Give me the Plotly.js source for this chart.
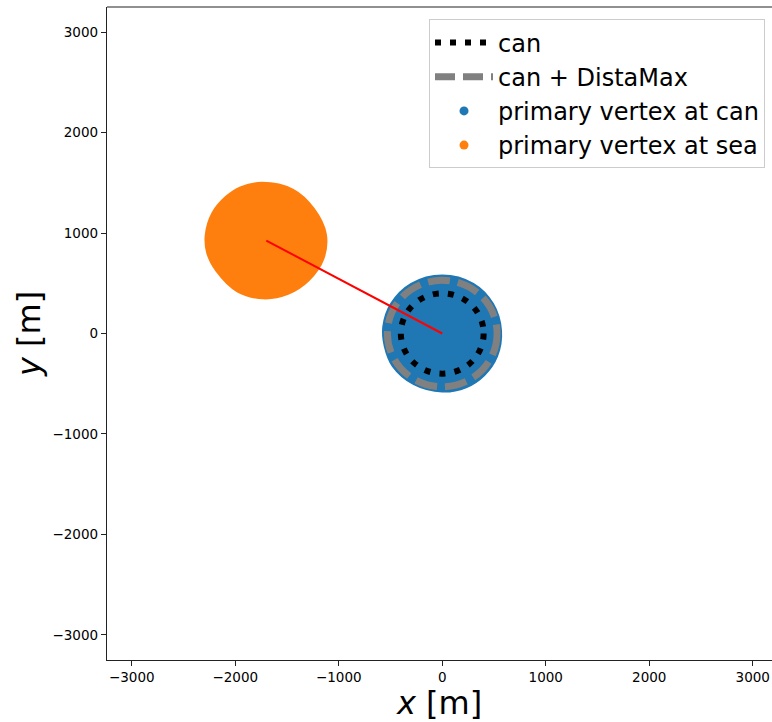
<!DOCTYPE html>
<html>
<head>
<meta charset="utf-8">
<script src="https://cdn.plot.ly/plotly-3.0.1.min.js"></script>
<style>html,body{margin:0;padding:0;background:#fff;}</style>
</head>
<body>
<div id="chart" style="width:772px;height:722px;"></div>
<script>
// ---- data ----
const canCenter = [0, 0];
const canRadius = 400;
const distaMaxRadius = 530;

// outline of the cloud of primary vertices at the can (blue)
const canVertexX = [0, 300, 490, 568, 530, 405, 230, 0, -275, -478, -555, -570, -495, -300, 0];
const canVertexY = [578, 495, 295, 30, -225, -415, -535, -578, -505, -325, -130, 65, 295, 495, 578];

// outline of the cloud of primary vertices at sea (orange)
const seaVertexX = [-1740, -1440, -1240, -1125, -1150, -1290, -1490, -1730, -1980, -2180, -2270, -2285, -2220, -2090, -1950, -1740];
const seaVertexY = [1500, 1430, 1240, 990, 740, 530, 395, 350, 420, 620, 800, 980, 1200, 1360, 1455, 1500];

// connecting line: sea vertex centre -> can centre
const lineX = [-1700, 0];
const lineY = [925, 0];

const xTicks = [-3000, -2000, -1000, 0, 1000, 2000, 3000];
const yTicks = [-3000, -2000, -1000, 0, 1000, 2000, 3000];

const legendNames = ['can', 'can + DistaMax', 'primary vertex at can', 'primary vertex at sea'];

const BLUE = '#1f77b4', ORANGE = '#ff7f0e';
const FONT = 'DejaVu Sans, sans-serif';
const fmt = v => v < 0 ? '\u2212' + Math.abs(v) : String(v);

const traces = [
  {x: canVertexX, y: canVertexY, type: 'scatter', mode: 'lines', fill: 'toself',
   fillcolor: BLUE, line: {color: BLUE, width: 2, shape: 'spline'}, showlegend: false, hoverinfo: 'skip'},
  {x: seaVertexX, y: seaVertexY, type: 'scatter', mode: 'lines', fill: 'toself',
   fillcolor: ORANGE, line: {color: ORANGE, width: 2, shape: 'spline'}, showlegend: false, hoverinfo: 'skip'},
  // legend entries
  {x: [null], y: [null], type: 'scatter', mode: 'lines', name: legendNames[0], legendgroup: 'a',
   line: {color: '#000', width: 6, dash: '6px,9px'}},
  {x: [null], y: [null], type: 'scatter', mode: 'lines', name: legendNames[1], legendgroup: 'b',
   line: {color: 'gray', width: 7, dash: '20px,8px'}},
  {x: [null], y: [null], type: 'scatter', mode: 'markers', name: legendNames[2], legendgroup: 'c',
   marker: {color: BLUE, size: 9}},
  {x: [null], y: [null], type: 'scatter', mode: 'markers', name: legendNames[3], legendgroup: 'd',
   marker: {color: ORANGE, size: 9}}
];

const shapes = [
  {type: 'circle', xref: 'x', yref: 'y',
   x0: canCenter[0] - distaMaxRadius, x1: canCenter[0] + distaMaxRadius,
   y0: canCenter[1] - distaMaxRadius, y1: canCenter[1] + distaMaxRadius,
   line: {color: 'gray', width: 7, dash: '22px,8px'}, layer: 'above'},
  {type: 'circle', xref: 'x', yref: 'y',
   x0: canCenter[0] - canRadius, x1: canCenter[0] + canRadius,
   y0: canCenter[1] - canRadius, y1: canCenter[1] + canRadius,
   line: {color: '#000', width: 6, dash: '6px,9.2px'}, layer: 'above'},
  {type: 'line', xref: 'x', yref: 'y', x0: lineX[0], y0: lineY[0], x1: lineX[1], y1: lineY[1],
   line: {color: 'red', width: 2}, layer: 'above'},
  // top spine
  {type: 'line', xref: 'paper', yref: 'paper', x0: 0, x1: 1, y0: 1, y1: 1,
   line: {color: '#222', width: 1.2}, layer: 'above'}
];

const layout = {
  width: 772, height: 722,
  margin: {l: 107, r: 0, t: 7, b: 62, pad: 0},
  paper_bgcolor: '#fff', plot_bgcolor: '#fff',
  font: {family: FONT, color: '#000'},
  showlegend: true,
  legend: {
    x: 0.9895, xanchor: 'right', y: 0.981, yanchor: 'top',
    bordercolor: '#cccccc', borderwidth: 1, bgcolor: 'rgba(255,255,255,0.8)',
    font: {family: FONT, size: 24, color: '#000'},
    traceorder: 'grouped', tracegroupgap: 0, itemwidth: 58
  },
  xaxis: {
    range: [-3239, 3186], tickvals: xTicks, ticktext: xTicks.map(fmt),
    showgrid: false, zeroline: false, showline: true, linecolor: '#222', linewidth: 1.2,
    ticks: 'outside', ticklen: 5, tickwidth: 1, tickcolor: '#222',
    tickfont: {family: FONT, size: 13.5, color: '#000'},
    title: {text: '<i>x</i> [m]', font: {family: FONT, size: 32, color: '#000'}, standoff: 9}
  },
  yaxis: {
    range: [-3250, 3250], tickvals: yTicks, ticktext: yTicks.map(fmt),
    showgrid: false, zeroline: false, showline: true, linecolor: '#222', linewidth: 1.2,
    ticks: 'outside', ticklen: 5, tickwidth: 1, tickcolor: '#222',
    tickfont: {family: FONT, size: 13.5, color: '#000'},
    title: {text: '<i>y</i> [m]', font: {family: FONT, size: 32, color: '#000'}, standoff: 2}
  },
  shapes: shapes
};

Plotly.newPlot('chart', traces, layout, {staticPlot: true, displayModeBar: false});
</script>
</body>
</html>
